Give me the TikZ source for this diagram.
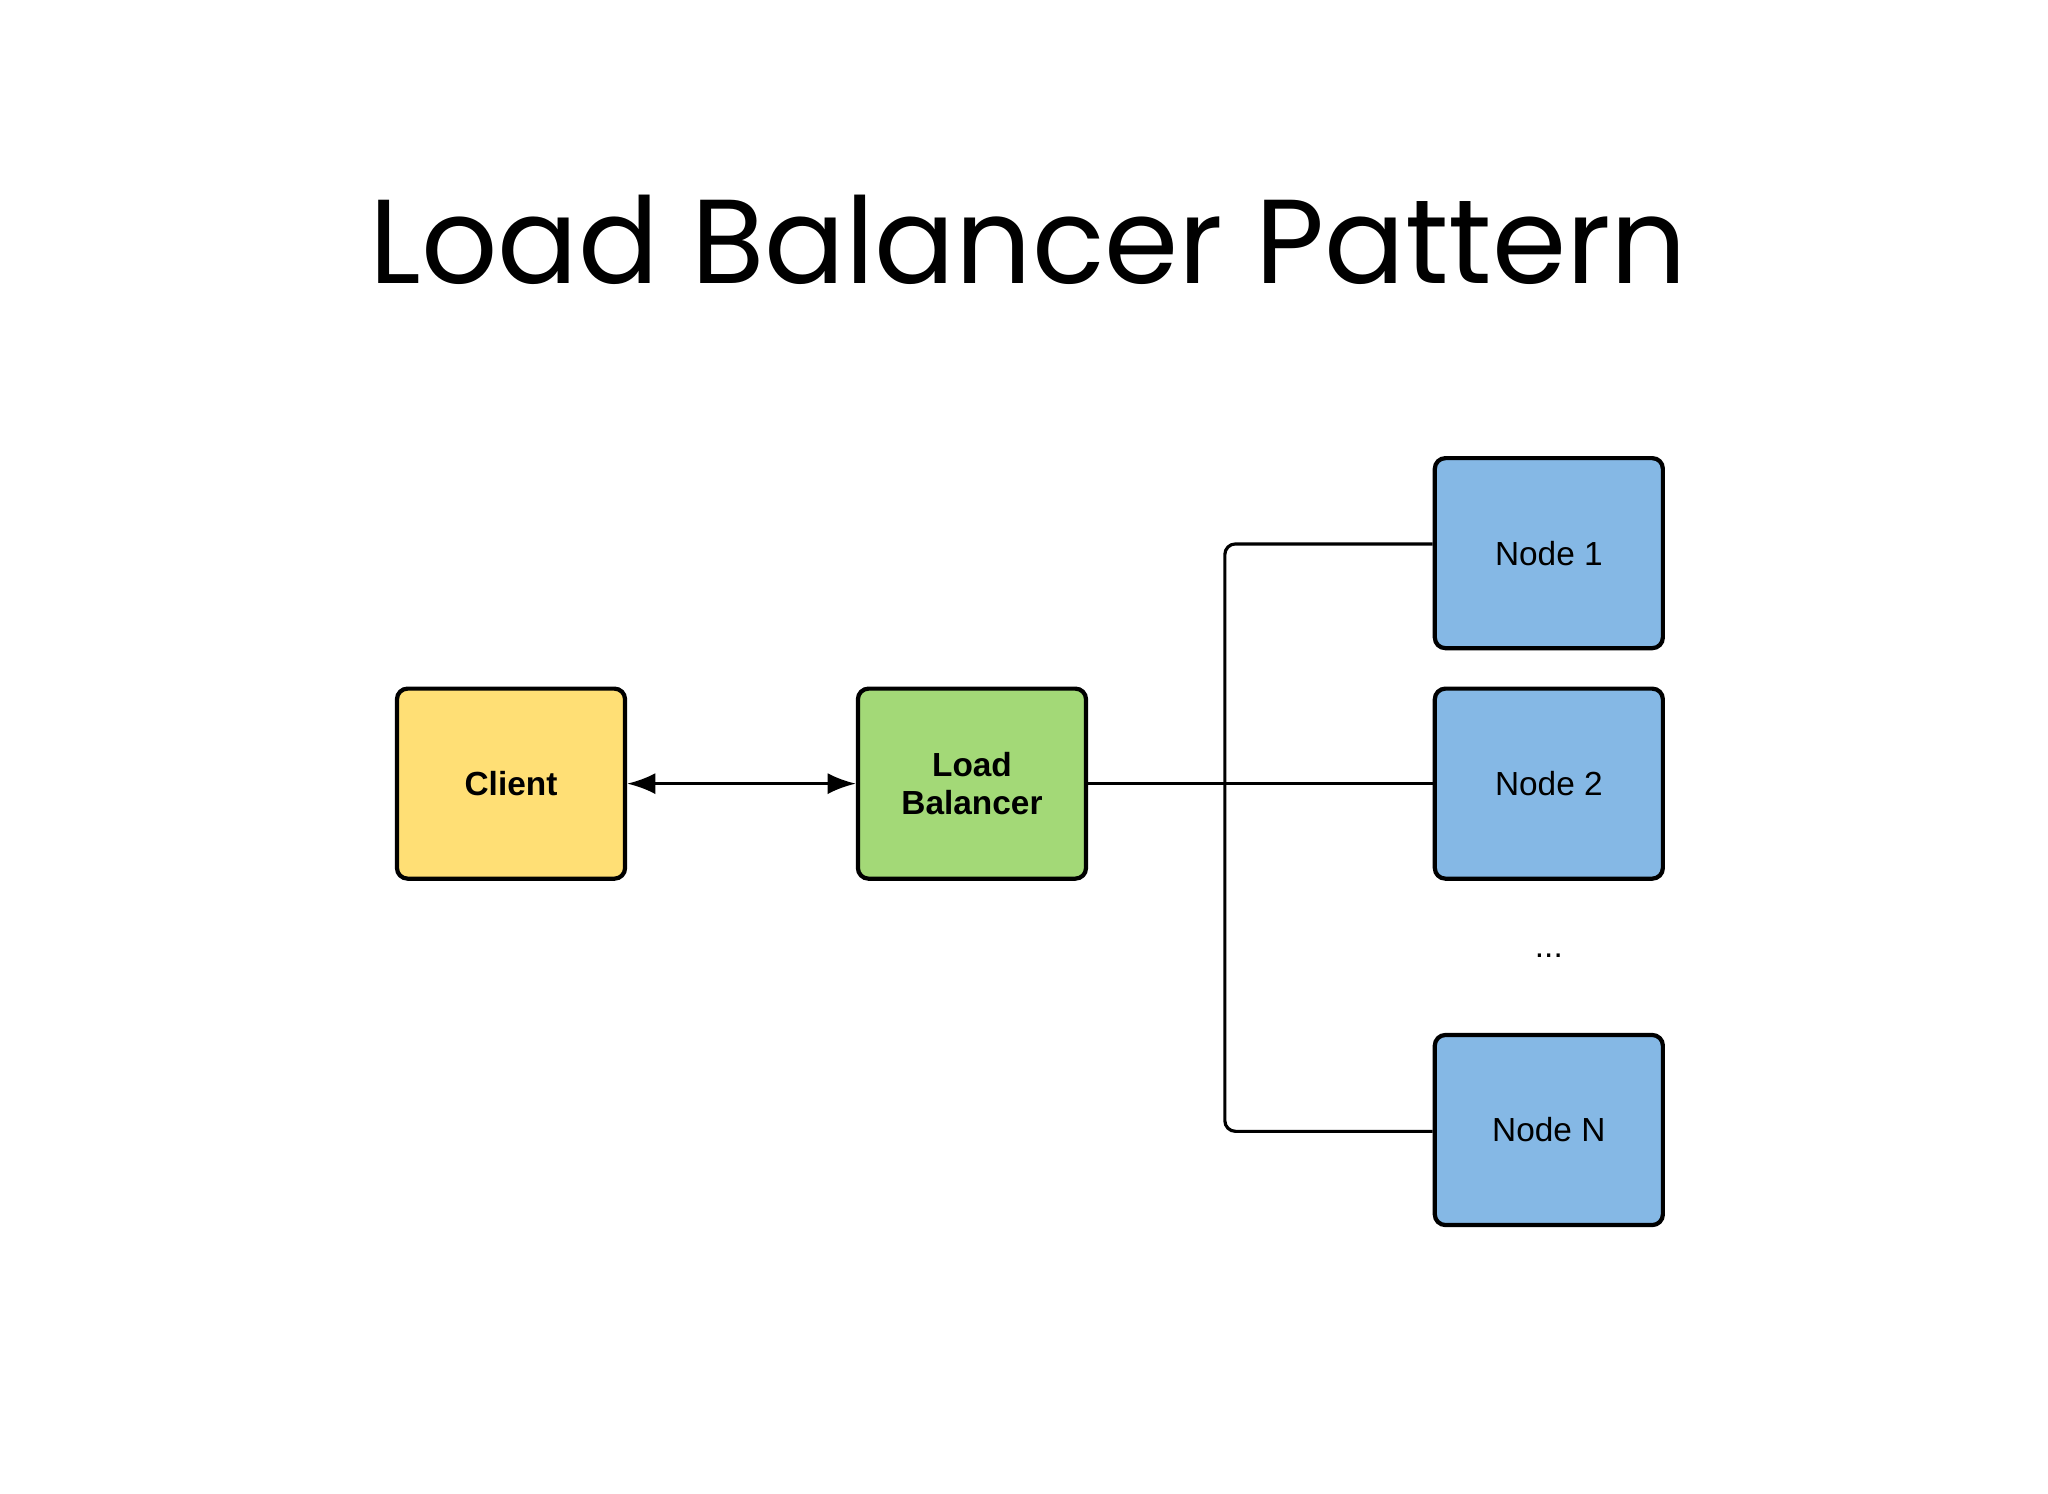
\documentclass[tikz,border=0pt]{standalone}
\usepackage{fontspec}
\setmainfont{Liberation Sans}
\newfontfamily\titlefont{Poppins}
\usetikzlibrary{arrows.meta}
\begin{document}
\begin{tikzpicture}[x=0.01317cm, y=-0.01317cm,
    box/.style={draw, line width=1.2pt, rounded corners=3pt, minimum width=2.28cm, minimum height=1.9cm, align=center, font=\fontsize{9.5}{11}\selectfont},
    wire/.style={line width=0.9pt, rounded corners=3pt}]
        \useasboundingbox (0,0) rectangle (1555,1134);
        \node[font=\titlefont\fontsize{34}{40}\selectfont] (title) at (781,182) {Load Balancer Pattern};
        
        \node[box, fill={rgb,255:red,255;green,223;blue,117}, font=\bfseries\fontsize{9.5}{11}\selectfont] (client) at (388,595) {Client};
        \node[box, fill={rgb,255:red,163;green,217;blue,119}, font=\bfseries\fontsize{9.5}{11}\selectfont] (lb) at (738,595) {Load\\Balancer};
        
        \node[box, fill={rgb,255:red,133;green,184;blue,229}] (n1) at (1176,420) {Node 1};
        \node[box, fill={rgb,255:red,133;green,184;blue,229}] (n2) at (1176,595) {Node 2};
        \node[font=\fontsize{9.5}{11}\selectfont] (dots) at (1176,726) {...};
        \node[box, fill={rgb,255:red,133;green,184;blue,229}] (nn) at (1176,858) {Node N};
        
        \draw[line width=0.9pt, {Latex[length=8pt,width=6pt]}-{Latex[length=8pt,width=6pt]}] (client) -- (lb);
        
        \coordinate (bus) at (930,595);
        \draw[wire] (lb) -- (n2);
        \draw[wire] (bus) |- (n1.west |- 0,413);
        \draw[wire] (bus) |- (nn.west |- 0,859);
        
    \end{tikzpicture}
\end{document}
